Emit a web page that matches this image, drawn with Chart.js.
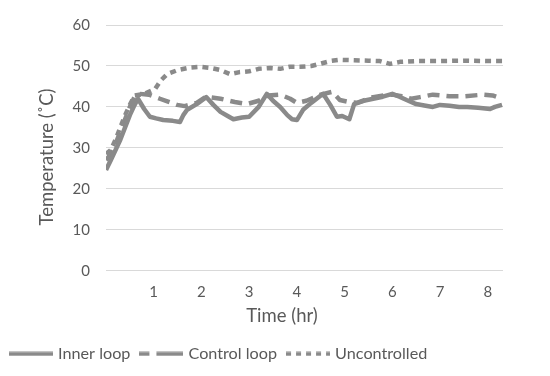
<!DOCTYPE html>
<html>
<head>
<meta charset="utf-8">
<script src="https://cdn.jsdelivr.net/npm/chart.js@4"></script>
<style>
  html, body { margin: 0; padding: 0; background: #fff; }
  #wrap { width: 550px; height: 376px; }
</style>
</head>
<body>
<div id="wrap"><canvas id="tempChart"></canvas></div>
<script>
// time in hours, temperature in degrees C
const innerTime = [0, 0.1, 0.2, 0.3, 0.4, 0.5, 0.6, 0.67, 0.8, 0.92, 1.05, 1.2, 1.4, 1.55, 1.62, 1.7, 1.9, 2.1, 2.25, 2.4, 2.55, 2.67, 2.85, 3.0, 3.2, 3.37, 3.5, 3.65, 3.8, 3.9, 4.0, 4.13, 4.3, 4.55, 4.7, 4.84, 4.95, 5.1, 5.2, 5.4, 5.6, 5.8, 6.0, 6.15, 6.3, 6.5, 6.7, 6.85, 7.0, 7.2, 7.4, 7.57, 7.8, 8.05, 8.15, 8.3];
const innerTemp = [24.6, 27, 29.5, 32, 35, 38, 40.5, 42, 39.5, 37.6, 37.2, 36.8, 36.6, 36.3, 38, 39.3, 40.7, 42.4, 40.5, 38.8, 37.8, 37.0, 37.4, 37.6, 40, 43.2, 41.5, 40, 38, 37, 36.8, 39.3, 41, 43.2, 40.5, 37.6, 37.8, 37.0, 40.7, 41.5, 42, 42.5, 43.2, 42.5, 41.7, 40.7, 40.3, 40, 40.5, 40.3, 40, 40, 39.8, 39.5, 40, 40.5];

const controlTime = [0, 0.1, 0.2, 0.3, 0.4, 0.5, 0.6, 0.7, 0.9, 1.13, 1.3, 1.49, 1.65, 1.9, 2.1, 2.4, 2.7, 2.95, 3.2, 3.4, 3.65, 3.86, 4.0, 4.2, 4.5, 4.74, 4.9, 5.1, 5.26, 5.6, 5.9, 6.0, 6.2, 6.4, 6.58, 6.85, 7.2, 7.5, 7.9, 8.1, 8.3];
const controlTemp = [27, 28.5, 31, 34, 37, 40, 42.5, 43.2, 43, 42, 41.3, 40.5, 40.2, 41, 42.5, 42, 41.2, 40.7, 41.5, 42.8, 43, 42, 41, 41.5, 43, 43.7, 41.7, 41.2, 41, 42.4, 43, 43, 42.6, 42, 42.4, 43, 42.6, 42.6, 43, 42.8, 42];

const openTime = [0, 0.1, 0.2, 0.3, 0.4, 0.5, 0.6, 0.8, 1.03, 1.15, 1.28, 1.5, 1.75, 1.97, 2.2, 2.4, 2.6, 2.8, 3.0, 3.2, 3.45, 3.65, 3.85, 4.07, 4.3, 4.48, 4.7, 4.9, 5.2, 5.5, 5.74, 5.95, 6.16, 6.5, 7.0, 7.5, 8.0, 8.3];
const openTemp = [28.5, 29.5, 32, 35, 38, 40.5, 42.8, 43.2, 44.4, 46.5, 48, 49, 49.6, 49.8, 49.5, 49, 48, 48.5, 48.7, 49.3, 49.5, 49.3, 49.8, 49.8, 50, 50.5, 51.2, 51.5, 51.4, 51.3, 51.2, 50.5, 51, 51.2, 51.2, 51.3, 51.2, 51.2];

const seriesNames = ['Inner loop', 'Control loop', 'Uncontrolled'];
const xTicks = [1, 2, 3, 4, 5, 6, 7, 8];
const xTitle = 'Time (hr)';
const yTitle = 'Temperature (˚C)';

function pts(xs, ys) {
  return xs.map((x, i) => ({x: x, y: ys[i]}));
}

const lineGrey = '#8a8a8a';
const textGrey = '#595959';
const font = 'Lato';

// little line samples used as legend symbols
function legendLine(dash) {
  const c = document.createElement('canvas');
  c.width = 44;
  c.height = 5;
  const g = c.getContext('2d');
  g.strokeStyle = lineGrey;
  g.lineWidth = 4;
  g.setLineDash(dash);
  g.beginPath();
  g.moveTo(0, 2.5);
  g.lineTo(44, 2.5);
  g.stroke();
  return c;
}

// axis titles sit a bit off-centre in the original, so draw them by hand
const axisTitles = {
  id: 'axisTitles',
  afterDraw(chart) {
    const {ctx, chartArea} = chart;
    ctx.save();
    ctx.fillStyle = textGrey;
    ctx.font = '18.5px ' + font;
    ctx.textAlign = 'center';
    ctx.textBaseline = 'middle';
    ctx.fillText(xTitle, chartArea.left + 176, chartArea.bottom + 45);
    ctx.translate(47, chartArea.top + 132);
    ctx.rotate(-Math.PI / 2);
    ctx.fillText(yTitle, 0, 0);
    ctx.restore();
  },
};

const ctx = document.getElementById('tempChart').getContext('2d');
const data = {
  datasets: [
    {
      label: seriesNames[0],
      data: pts(innerTime, innerTemp),
      borderColor: lineGrey,
      backgroundColor: lineGrey,
      borderWidth: 4.5,
      pointStyle: legendLine([]),
    },
    {
      label: seriesNames[1],
      data: pts(controlTime, controlTemp),
      borderColor: lineGrey,
      backgroundColor: lineGrey,
      borderWidth: 4.5,
      borderDash: [12, 7],
      pointStyle: legendLine([10, 7, 27, 7]),
    },
    {
      label: seriesNames[2],
      data: pts(openTime, openTemp),
      borderColor: lineGrey,
      backgroundColor: lineGrey,
      borderWidth: 4.5,
      borderDash: [6, 5],
      pointStyle: legendLine([5, 5]),
    },
  ],
};

const options = {
  responsive: true,
  maintainAspectRatio: false,
  animation: false,
  layout: {
    padding: {left: 0, right: 47, top: 23, bottom: 4},
  },
  elements: {
    point: {radius: 0, hoverRadius: 0},
    line: {tension: 0, borderCapStyle: 'butt', borderJoinStyle: 'round'},
  },
  plugins: {
    legend: {
      position: 'bottom',
      align: 'start',
      labels: {
        usePointStyle: true,
        pointStyleWidth: 38,
        padding: 12,
        color: textGrey,
        font: {family: font, size: 16.2},
      },
    },
    tooltip: {enabled: false},
  },
  scales: {
    x: {
      type: 'linear',
      min: 0,
      max: 8.32,
      afterBuildTicks: (axis) => {
        axis.ticks = xTicks.map(v => ({value: v}));
      },
      afterFit: (axis) => { axis.height = 63; },
      grid: {display: false},
      border: {display: false},
      ticks: {
        color: textGrey,
        font: {family: font, size: 15},
        padding: 4,
        maxRotation: 0,
      },
    },
    y: {
      min: 0,
      max: 60,
      afterFit: (axis) => { axis.width = 106; },
      grid: {color: '#d9d9d9', lineWidth: 1, drawTicks: false},
      border: {display: false},
      ticks: {
        stepSize: 10,
        color: textGrey,
        font: {family: font, size: 15},
        padding: 16,
      },
    },
  },
};

new Chart(ctx, {
  type: 'line',
  data: data,
  options: options,
  plugins: [axisTitles],
});
</script>
</body>
</html>
